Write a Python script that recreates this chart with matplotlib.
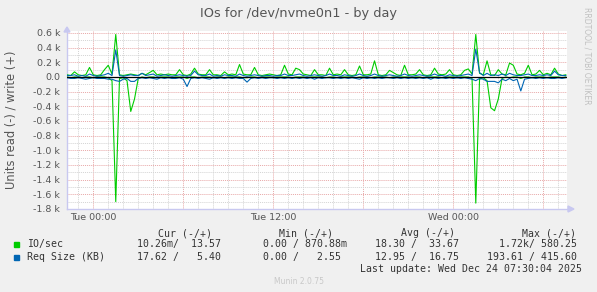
import matplotlib.pyplot as plt
import numpy as np
from matplotlib.patches import Polygon

# 15 minute samples, hours relative to Tue 00:00, values in thousands
t_start = -1.75
step = 0.25

io_write = [.03,.02,.07,.03,.02,.03,.13,.03,.02,.03,
            .10,.16,.04,.58,.03,.02,.03,.04,.03,.02,
            .05,.03,.06,.09,.03,.04,.03,.04,.03,.03,
            .10,.03,.02,.04,.12,.04,.03,.03,.10,.03,
            .03,.02,.07,.03,.04,.03,.17,.04,.03,.03,
            .13,.03,.02,.03,.04,.03,.02,.03,.16,.04,
            .03,.12,.10,.04,.03,.02,.10,.03,.03,.02,
            .12,.03,.04,.03,.10,.03,.02,.03,.15,.03,
            .03,.04,.22,.03,.02,.03,.09,.06,.03,.02,
            .16,.03,.03,.04,.10,.03,.02,.03,.12,.04,
            .03,.04,.10,.03,.02,.03,.09,.11,.04,.58,
            .05,.03,.22,.03,.02,.10,.04,.03,.19,.16,
            .04,.03,.05,.16,.03,.04,.09,.03,.05,.03,
            .12,.04,.02,.03]
io_read = [.00,.01,.00,.00,.01,.00,.00,.01,.00,.00,
           .00,.01,.05,1.70,.02,.01,.05,.47,.30,.02,
           .00,.01,.00,.00,.01,.00,.00,.00,.01,.00,
           .00,.00,.02,.00,.00,.01,.00,.00,.00,.01,
           .00,.00,.01,.00,.00,.00,.00,.01,.01,.00,
           .00,.01,.00,.00,.00,.01,.00,.00,.00,.00,
           .01,.00,.00,.00,.01,.00,.00,.00,.00,.01,
           .00,.00,.01,.00,.00,.00,.00,.01,.00,.00,
           .00,.01,.00,.00,.00,.00,.01,.00,.00,.00,
           .00,.00,.01,.00,.00,.01,.00,.00,.00,.00,
           .01,.00,.00,.00,.01,.00,.00,.00,.02,1.72,
           .03,.01,.05,.42,.46,.30,.02,.00,.01,.00,
           .00,.02,.00,.00,.01,.00,.00,.00,.01,.00,
           .00,.00,.01,.00]
req_write = [.02,.02,.03,.01,.02,.01,.04,.02,.01,.02,
             .03,.05,.02,.37,.02,.01,.02,.03,.02,.02,
             .05,.02,.03,.04,.01,.02,.03,.02,.01,.02,
             .03,.02,.01,.02,.08,.03,.02,.02,.04,.01,
             .02,.01,.03,.02,.02,.01,.04,.02,.01,.02,
             .03,.02,.01,.02,.02,.01,.02,.02,.04,.02,
             .02,.03,.04,.02,.01,.02,.03,.02,.01,.02,
             .04,.02,.02,.01,.03,.02,.01,.02,.04,.02,
             .01,.02,.04,.02,.01,.02,.03,.02,.01,.02,
             .04,.02,.01,.02,.03,.02,.01,.02,.04,.02,
             .02,.01,.03,.02,.01,.02,.03,.04,.02,.38,
             .06,.02,.05,.02,.03,.02,.04,.02,.05,.03,
             .02,.02,.03,.04,.02,.02,.03,.02,.03,.02,
             .08,.03,.02,.02]
req_read = [.01,.02,.02,.01,.02,.03,.02,.01,.02,.02,
            .02,.03,.03,.05,.06,.03,.02,.06,.06,.02,
            .01,.02,.01,.02,.03,.01,.02,.01,.02,.02,
            .01,.03,.13,.02,.01,.02,.01,.02,.03,.01,
            .02,.01,.02,.01,.02,.01,.02,.02,.07,.02,
            .01,.02,.01,.02,.01,.01,.02,.01,.02,.01,
            .02,.01,.02,.01,.02,.01,.03,.01,.02,.01,
            .01,.02,.01,.02,.01,.02,.01,.02,.03,.01,
            .02,.01,.02,.01,.02,.01,.01,.02,.01,.02,
            .01,.02,.01,.02,.01,.02,.01,.03,.01,.02,
            .01,.02,.01,.02,.01,.02,.01,.02,.03,.05,
            .02,.03,.06,.06,.06,.08,.03,.05,.02,.05,
            .03,.19,.03,.02,.01,.02,.01,.02,.01,.02,
            .02,.01,.02,.01]

yticks = [0.6, 0.4, 0.2, 0.0, -0.2, -0.4, -0.6, -0.8, -1.0, -1.2, -1.4, -1.6, -1.8]
xlabels = {0: "Tue 00:00", 12: "Tue 12:00", 24: "Wed 00:00"}

legend_head = ["Cur (-/+)", "Min (-/+)", "Avg (-/+)", "Max (-/+)"]
legend_rows = [("IO/sec", "#00cc00", ["10.26m/  13.57", "0.00 / 870.88m", "18.30 /  33.67", "1.72k/ 580.25"]),
               ("Req Size (KB)", "#0066b3", ["17.62 /   5.40", "0.00 /   2.55 ", "12.95 /  16.75", "193.61 / 415.60"])]
last_update = "Last update: Wed Dec 24 07:30:04 2025"

W, H = 597, 292
def px(x, y):
    return (x / W, 1 - y / H)

bg = "#f0f0f0"
fig = plt.figure(figsize=(W / 100, H / 100), dpi=100, facecolor=bg)
ax = fig.add_axes([67 / W, 1 - 209 / H, 500 / W, 178 / H])
ax.set_facecolor("white")

t = t_start + step * np.arange(len(io_write))
ax.plot(t, -np.array(io_read), color="#00cc00", lw=0.8, zorder=3)
ax.plot(t, io_write, color="#00cc00", lw=0.8, zorder=3)
ax.plot(t, -np.array(req_read), color="#0066b3", lw=0.8, zorder=4)
ax.plot(t, req_write, color="#0066b3", lw=0.8, zorder=4)
ax.axhline(0, color="black", lw=0.9, zorder=5)

ax.set_xlim(-1.75, 31.58)
ax.set_ylim(-1.8, 0.627)

# grid: minor grey, major red
for h in np.arange(-1, 32, 1):
    c = "#e8a8a8" if h % 6 == 0 else "#d4d4d4"
    ax.axvline(h, color=c, lw=0.7, ls=(0, (1, 1)), zorder=1)
for v in np.arange(-1.8, 0.61, 0.1):
    c = "#e8a8a8" if round(v * 10) % 2 == 0 else "#d4d4d4"
    ax.axhline(v, color=c, lw=0.7, ls=(0, (1, 1)), zorder=1)

ax.set_yticks(yticks)
ax.set_yticklabels(["0.0" if v == 0 else f"{v:.1f} k" for v in yticks])
ax.set_xticks(list(xlabels.keys()))
ax.set_xticklabels(list(xlabels.values()))
ax.tick_params(length=0, labelsize=6.8, colors="#555555")
ax.tick_params(axis="y", pad=5)
ax.tick_params(axis="x", pad=3)

for s in ["top", "right"]:
    ax.spines[s].set_visible(False)
for s in ["left", "bottom"]:
    ax.spines[s].set_color("#c8c8f0")
    ax.spines[s].set_linewidth(1)

# axis arrows
fig.patches.append(Polygon([px(64, 32), px(70, 32), px(67, 27)], closed=True,
                           color="#c8c8f0", transform=fig.transFigure))
fig.patches.append(Polygon([px(568, 206), px(568, 212), px(574, 209)], closed=True,
                           color="#c8c8f0", transform=fig.transFigure))

fig.text(*px(298.5, 14), "IOs for /dev/nvme0n1 - by day", ha="center", va="center",
         fontsize=9.3, color="#555555")
fig.text(*px(11, 120), "Units read (-) / write (+)", ha="center", va="center",
         rotation=90, fontsize=8.3, color="#555555")
fig.text(*px(587, 56), "RRDTOOL / TOBI OETIKER", ha="center", va="center",
         rotation=270, fontsize=5.5, color="#c0c0c0")

mono = "DejaVu Sans Mono"
lc = "#333333"
head_x = [212, 333, 455, 576]
val_x = [221, 347, 459, 577]
for hx, txt in zip(head_x, legend_head):
    fig.text(*px(hx, 233), txt, ha="right", va="center", family=mono, fontsize=7.1, color=lc)
for k, (name, col, vals) in enumerate(legend_rows):
    y = 244 + 13 * k
    fig.patches.append(plt.Rectangle(px(14, y + 2.5), 5 / W, 5 / H, color=col,
                                     transform=fig.transFigure))
    fig.text(*px(27, y), name, ha="left", va="center", family=mono, fontsize=7.1, color=lc)
    for vx, txt in zip(val_x, vals):
        fig.text(*px(vx, y), txt, ha="right", va="center", family=mono, fontsize=7.1, color=lc)
fig.text(*px(582, 269), last_update, ha="right", va="center", family=mono, fontsize=7.1, color=lc)
fig.text(*px(299, 281), "Munin 2.0.75", ha="center", va="center", fontsize=5.5, color="#c8c8c8")

fig.savefig("out.png", dpi=100, facecolor=bg)
